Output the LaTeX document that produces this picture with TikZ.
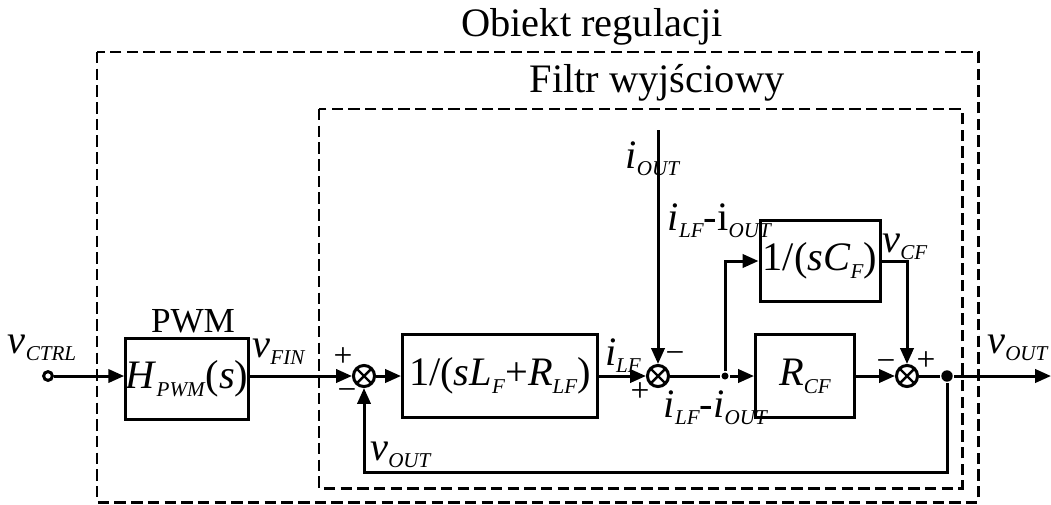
\documentclass[tikz,border=0pt]{standalone}
\usepackage{amsmath}
\usepackage{fontspec}
\setmainfont{Liberation Serif}
\usepackage{tikz}
\usetikzlibrary{arrows.meta}
\newcommand{\subsz}{\fontsize{12}{12}\selectfont}
\newcommand{\sig}[2]{\textit{#1}\raisebox{-4.5pt}{\subsz\textit{#2}}}

\begin{document}
\begin{tikzpicture}[x=0.2mm,y=-0.2mm,line width=1.7pt,>={Triangle[length=9pt,width=7.5pt]},
    block/.style={draw,inner sep=0,font=\fontsize{23}{23}\selectfont},
    sumnode/.style={circle,draw,minimum size=12pt,inner sep=0,
        path picture={\draw[line width=1.4pt] (path picture bounding box.north west) -- (path picture bounding box.south east)
            (path picture bounding box.north east) -- (path picture bounding box.south west);}},
    dotnode/.style={circle,fill,inner sep=0},
    lbl/.style={inner sep=0,anchor=base,font=\fontsize{23}{23}\selectfont},
    sign/.style={inner sep=0,font=\fontsize{19}{19}\selectfont},
    frame/.style={dash pattern=on 6.5pt off 3pt}]
    \useasboundingbox (0,0) rectangle (1051,504);
    % frames
    \node[lbl] at (592,36) (objlbl) {Obiekt regulacji};
    \node[lbl] at (657,92) (filtrlbl) {Filtr wyjściowy};
    \draw[frame] (97,52) rectangle (978,502);
    \draw[frame] (319,109) rectangle (962,488);
    %
    \node[circle,draw,fill=white,minimum size=5pt,inner sep=0] at (48,376) (ctrl) {};
    \node[lbl] at (42,353) (vctrl) {\sig{v}{CTRL}};
    \node[block,minimum width=24.4mm,minimum height=16.2mm] at (187,379) (pwm) {\sig{H}{PWM}(\textit{s})};
    \node[lbl,font=\fontsize{20}{20}\selectfont] at (193,332) (pwmlbl) {PWM};
    \node[lbl] at (279,357) (vfin) {\sig{v}{FIN}};
    %
    \node[sumnode] at (364,376) (sum1) {};
    \node[sign] at (343,357) (s1p) {+};
    \node[sign] at (347,395) (s1m) {−};
    \node[block,minimum width=39mm,minimum height=16.6mm] at (500,376) (lf) {1/(\textit{s}\sig{L}{F}+\sig{R}{LF})};
    \node[lbl] at (623,365) (ilf) {\sig{i}{LF}};
    %
    \node[sumnode] at (658,376) (sum2) {};
    \node[sign] at (675,358) (s2m) {−};
    \node[sign] at (640,392) (s2p) {+};
    \coordinate (iout) at (658,130);
    \node[lbl] at (653,168) (ioutlbl) {\sig{i}{OUT}};
    \node[dotnode,minimum size=4pt] at (725,376) (dot1) {};
    \node[lbl] at (720,230) (idiff1) {\sig{i}{LF}-i\raisebox{-4.5pt}{\subsz\textit{OUT}}};
    \node[lbl] at (716,417) (idiff2) {\sig{i}{LF}-\sig{i}{OUT}};
    %
    \node[block,minimum width=24mm,minimum height=16.2mm] at (820,261) (cf) {1/(\textit{s}\sig{C}{F})};
    \node[block,minimum width=19.8mm,minimum height=16.6mm] at (805,376) (rcf) {\sig{R}{CF}};
    \node[lbl] at (905,252) (vcf) {\sig{v}{CF}};
    \node[sumnode] at (907,376) (sum3) {};
    \node[sign] at (886,366) (s3m) {−};
    \node[sign] at (926,361) (s3p) {+};
    \node[dotnode,minimum size=6.5pt] at (947,376) (dot2) {};
    \coordinate (outend) at (1051,376);
    \node[lbl] at (1018,353) (vout) {\sig{v}{OUT}};
    \coordinate (fb) at (947,472);
    \node[lbl] at (401,460) (voutfb) {\sig{v}{OUT}};
    % connectors
    \draw[->] (ctrl) -- (ctrl -| pwm.west);
    \draw[->] (pwm.east |- sum1) -- (sum1);
    \draw[->] (sum1) -- (lf);
    \draw[->] (lf) -- (sum2);
    \draw[->] (iout) -- (sum2);
    \draw (sum2) -- (dot1);
    \draw[->] (dot1) -- (rcf);
    \draw[->] (dot1) |- (cf);
    \draw[->] (cf) -| (sum3);
    \draw[->] (rcf) -- (sum3);
    \draw (sum3) -- (dot2);
    \draw[->] (dot2) -- (outend);
    \draw[->] (dot2) -- (fb) -| (sum1);
\end{tikzpicture}
\end{document}
